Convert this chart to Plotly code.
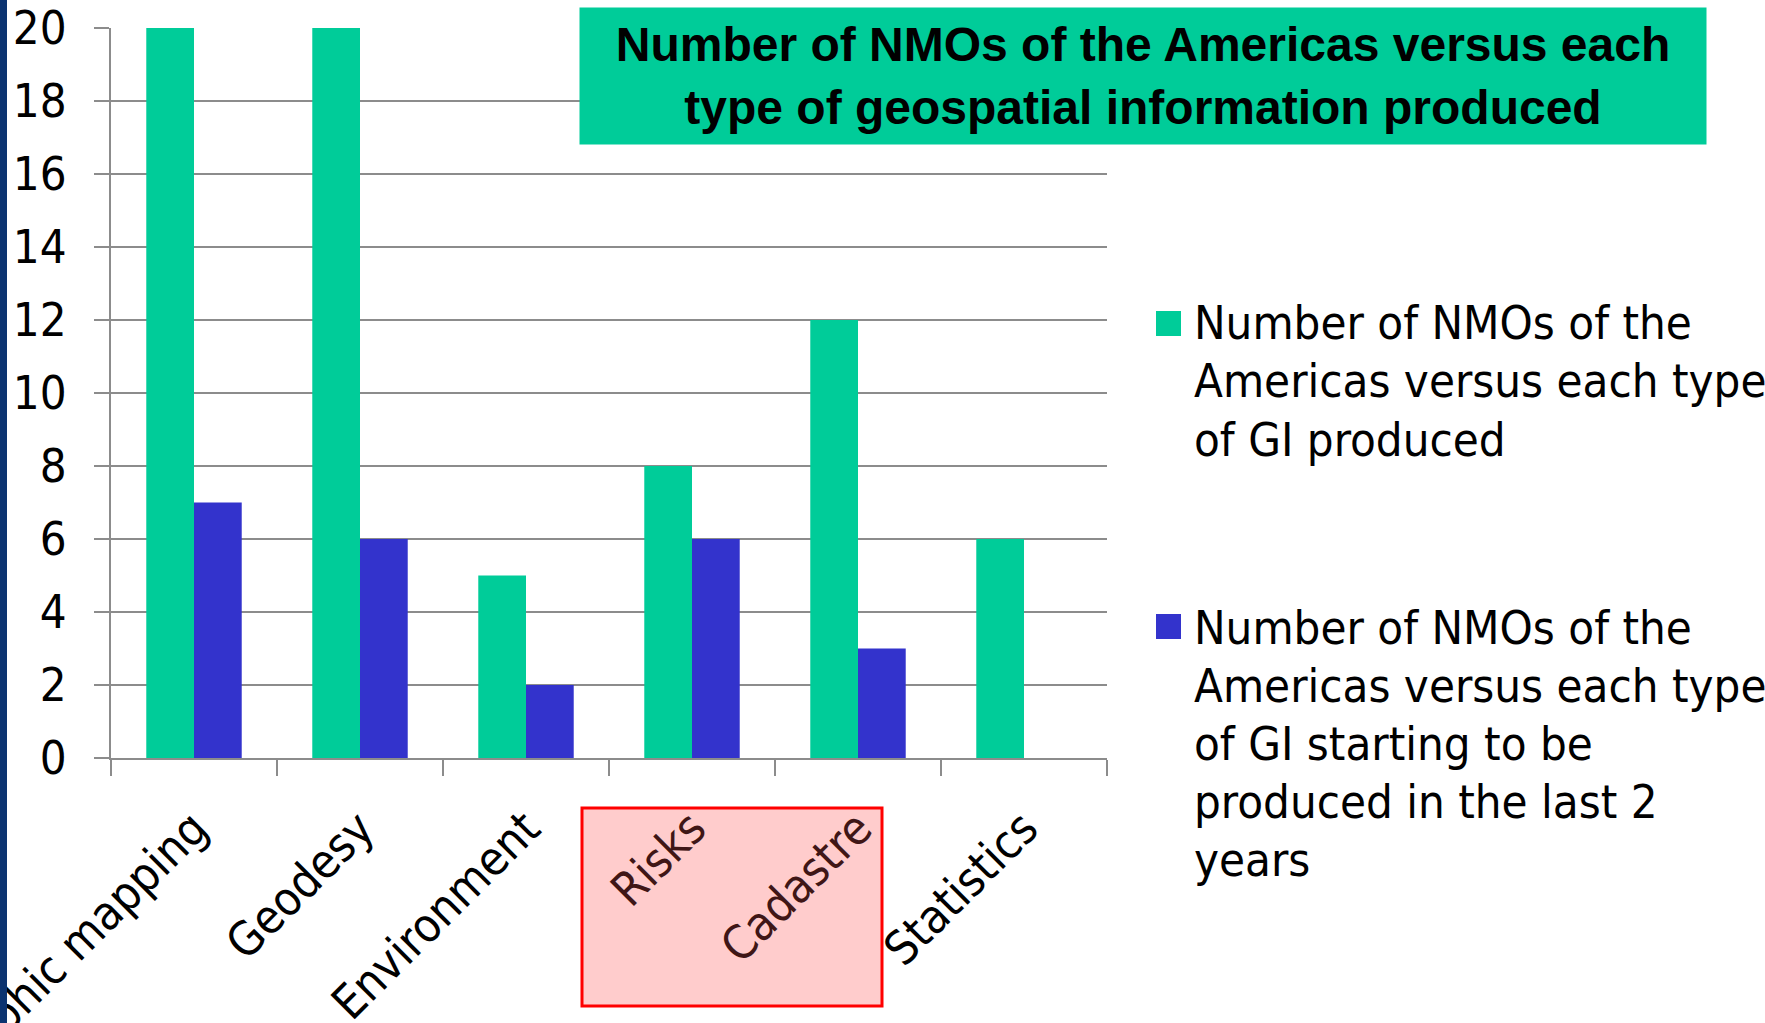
import plotly.graph_objects as go

# ---- data ----
categories = ["Topographic mapping", "Geodesy", "Environment", "Risks", "Cadastre", "Statistics"]
gi_produced = [20, 20, 5, 8, 12, 6]
gi_started_last2 = [7, 6, 2, 6, 3, 0]
series_names = [
    "Number of NMOs of the<br>Americas versus each type<br>of GI produced",
    "Number of NMOs of the<br>Americas versus each type<br>of GI starting to be<br>produced in the last 2<br>years",
]
highlighted = ["Risks", "Cadastre"]
y_ticks = [0, 2, 4, 6, 8, 10, 12, 14, 16, 18, 20]
title_text = "Number of NMOs of the Americas versus each<br>type of geospatial information produced"

# ---- style ----
GREEN = "#00CC99"
BLUE = "#3333CC"
GRID = "#8C8C8C"
FONT = "DejaVu Sans Condensed, DejaVu Sans, sans-serif"
W, H = 1765, 1023
L, R, T, B = 111, 1107, 28, 758  # plot area in pixels

def xp(px):
    return (px - L) / (R - L)

def yp(py):
    return (B - py) / (B - T)

ticktext = [
    f"<span style='color:#3F1616'>{c}</span>" if c in highlighted else c
    for c in categories
]

fig = go.Figure()
fig.add_trace(go.Bar(x=categories, y=gi_produced, name=series_names[0],
                     marker=dict(color=GREEN, line=dict(width=0))))
fig.add_trace(go.Bar(x=categories, y=gi_started_last2, name=series_names[1],
                     marker=dict(color=BLUE, line=dict(width=0))))

fig.update_layout(
    width=W, height=H, autosize=False,
    margin=dict(l=L, r=W - R, t=T, b=H - B, pad=0, autoexpand=False),
    paper_bgcolor="white", plot_bgcolor="white",
    barmode="group", bargap=0.425, bargroupgap=0,
    showlegend=False,
    font=dict(family=FONT, size=47, color="black"),
)

fig.update_xaxes(
    categoryorder="array", categoryarray=categories,
    tickmode="array", tickvals=categories, ticktext=ticktext,
    tickangle=-45, tickson="boundaries", automargin=False,
    ticks="outside", ticklen=16, tickwidth=2, tickcolor=GRID,
    showline=True, linecolor=GRID, linewidth=2,
    showgrid=False, ticklabelstandoff=22,
    tickfont=dict(family=FONT, size=47, color="black"),
)
fig.update_yaxes(
    range=[0, 20], tickmode="array", tickvals=y_ticks, automargin=False,
    showgrid=True, gridcolor=GRID, gridwidth=2, zeroline=False,
    ticks="outside", ticklen=15, tickwidth=2, tickcolor=GRID,
    showline=True, linecolor=GRID, linewidth=2,
    ticklabelstandoff=18,
    tickfont=dict(family=FONT, size=47, color="black"),
)

shapes = [
    # left navy strip
    dict(type="rect", xref="paper", yref="paper", x0=xp(0), x1=xp(7), y0=yp(H), y1=yp(0),
         fillcolor="#0B3370", line=dict(width=0), layer="above"),
    # highlight box behind Risks / Cadastre labels
    dict(type="rect", xref="paper", yref="paper", x0=xp(582), x1=xp(882), y0=yp(1006), y1=yp(808),
         fillcolor="#FFCCCC", line=dict(color="#FF0000", width=3), layer="below"),
    # legend swatches
    dict(type="rect", xref="paper", yref="paper", x0=xp(1156), x1=xp(1181), y0=yp(336), y1=yp(311),
         fillcolor=GREEN, line=dict(width=0)),
    dict(type="rect", xref="paper", yref="paper", x0=xp(1156), x1=xp(1181), y0=yp(639), y1=yp(614),
         fillcolor=BLUE, line=dict(width=0)),
]
fig.update_layout(shapes=shapes)

annotations = [
    dict(text="<b>" + title_text + "</b>", xref="paper", yref="paper",
         x=xp(1143), y=yp(76), xanchor="center", yanchor="middle",
         showarrow=False, align="center", width=1126, height=136,
         bgcolor=GREEN, borderpad=0,
         font=dict(family="Liberation Sans, Arial, sans-serif", size=48, color="black")),
]
LEGEND_TOP = [323, 627]   # pixel centre of first line of each legend entry
LINE_STEP = 58
for name, top in zip(series_names, LEGEND_TOP):
    for i, line in enumerate(name.split("<br>")):
        annotations.append(dict(
            text=line, xref="paper", yref="paper",
            x=xp(1192), y=yp(top + i * LINE_STEP), xanchor="left", yanchor="middle",
            showarrow=False, align="left",
            font=dict(family=FONT, size=47, color="black")))
fig.update_layout(annotations=annotations)

fig.write_html("out.html", config={"displayModeBar": False},
               post_script="document.body.style.margin='0px';")
